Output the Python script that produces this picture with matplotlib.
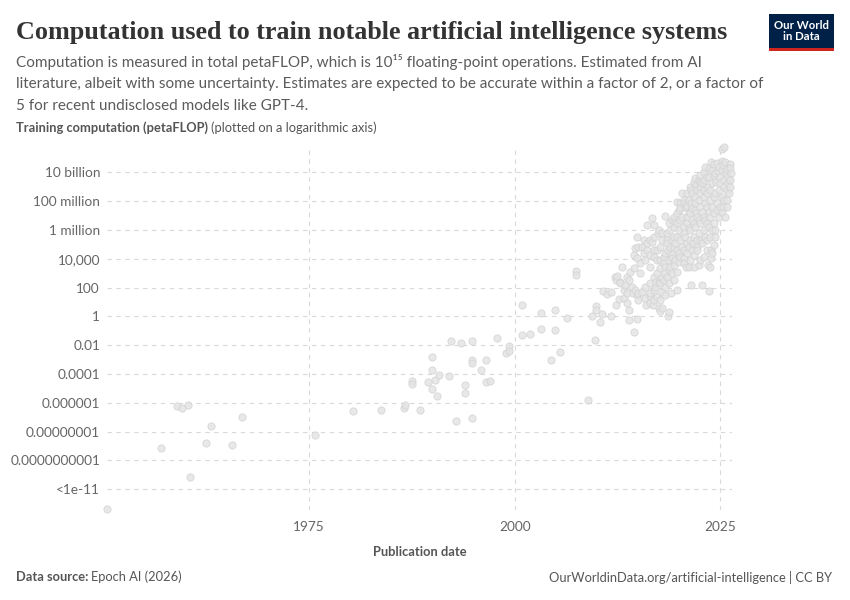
import matplotlib
matplotlib.use("Agg")
import matplotlib.pyplot as plt
from matplotlib.patches import Rectangle
import numpy as np

# publication year / log10(training compute in petaFLOP)
early_year = [1950.5, 1957.0, 1959.0, 1959.55, 1960.3, 1960.5, 1962.5, 1963.1, 1965.7, 1966.8,
              1975.7, 1980.3, 1983.7, 1986.6, 1986.7, 1987.5, 1987.5, 1988.5,
              1989.4, 1989.9, 1989.9, 1989.9, 1990.35, 1990.5, 1990.75, 1992.0, 1992.3, 1992.8,
              1993.5, 1993.9, 1994.0, 1994.8, 1994.8, 1994.8, 1994.8, 1995.85, 1996.45, 1996.45,
              1997.0, 1997.9, 1998.9, 1999.35, 1999.35, 2000.9, 2000.9, 2001.9, 2003.25, 2003.25,
              2004.4, 2004.9, 2004.9, 2005.5, 2006.35, 2007.45, 2007.45, 2008.95, 2009.4, 2009.7,
              2009.9, 2009.9, 2010.4, 2010.6]
early_log = [-13.36, -9.13, -6.2, -6.35, -6.14, -11.14, -8.78, -7.6, -8.92, -6.97,
             -8.22, -6.56, -6.49, -6.35, -6.14, -4.51, -4.68, -6.49,
             -4.54, -2.8, -3.73, -5.07, -4.42, -5.51, -4.08, -4.12, -1.69, -7.25,
             -1.83, -4.77, -5.3, -1.69, -3.03, -3.27, -7.04, -3.73, -3.03, -4.54,
             -4.47, -1.49, -2.53, -2.06, -2.39, 0.78, -1.28, -1.21, 0.25, -0.86,
             -3.01, 0.46, -0.93, -2.46, -0.1, 3.15, 2.89, -5.81, 0.04, -1.62,
             0.71, 0.44, -0.42, 0.16]

recent_year = [
    2010.73, 2011.21, 2011.70, 2011.70, 2012.22, 2012.34, 2012.34, 2012.43, 2012.71, 2012.75,
    2012.83, 2013.03, 2013.24, 2013.32, 2013.44, 2013.64, 2013.64, 2013.64, 2013.84, 2013.84,
    2013.92, 2014.04, 2014.25, 2014.37, 2014.45, 2014.45, 2014.53, 2014.65, 2014.65, 2014.85,
    2014.85, 2014.85, 2014.85, 2014.93, 2014.97, 2014.97, 2015.26, 2015.26, 2015.46, 2015.46,
    2015.66, 2015.66, 2015.87, 2015.87, 2015.87, 2015.99, 2016.07, 2016.07, 2016.07, 2016.39,
    2016.39, 2016.47, 2016.47, 2016.47, 2016.47, 2016.47, 2016.67, 2016.67, 2016.76, 2016.88,
    2016.88, 2016.88, 2016.88, 2016.88, 2016.88, 2016.88, 2017.08, 2017.20, 2017.28, 2017.28,
    2017.28, 2017.28, 2017.36, 2017.48, 2017.48, 2017.48, 2017.60, 2017.69, 2017.69, 2017.69,
    2017.69, 2017.69, 2017.89, 2017.89, 2017.89, 2017.89, 2017.89, 2018.09, 2018.09, 2018.09,
    2018.29, 2018.29, 2018.29, 2018.29, 2018.29, 2018.29, 2018.49, 2018.49, 2018.49, 2018.49,
    2018.57, 2018.62, 2018.70, 2018.70, 2018.70, 2018.70, 2018.70, 2018.90, 2018.90, 2018.90,
    2018.98, 2019.10, 2019.10, 2019.10, 2019.10, 2019.10, 2019.30, 2019.30, 2019.30, 2019.30,
    2019.30, 2019.30, 2019.51, 2019.51, 2019.51, 2019.71, 2019.71, 2019.71, 2019.71, 2019.71,
    2019.71, 2019.71, 2019.91, 2019.91, 2019.91, 2019.91, 2020.11, 2020.11, 2020.11, 2020.11,
    2020.11, 2020.31, 2020.31, 2020.31, 2020.52, 2020.52, 2020.52, 2020.52, 2020.52, 2020.52,
    2020.60, 2020.72, 2020.72, 2020.84, 2020.84, 2020.92, 2020.92, 2020.92, 2020.92, 2020.92,
    2020.92, 2021.12, 2021.12, 2021.12, 2021.12, 2021.17, 2021.33, 2021.33, 2021.33, 2021.33,
    2021.33, 2021.41, 2021.41, 2021.41, 2021.53, 2021.53, 2021.53, 2021.53, 2021.65, 2021.73,
    2021.73, 2021.73, 2021.73, 2021.73, 2021.93, 2021.93, 2021.93, 2021.93, 2021.93, 2021.97,
    2021.97, 2022.14, 2022.14, 2022.14, 2022.14, 2022.14, 2022.34, 2022.34, 2022.34, 2022.34,
    2022.34, 2022.46, 2022.46, 2022.54, 2022.54, 2022.54, 2022.54, 2022.54, 2022.62, 2022.74,
    2022.74, 2022.74, 2022.74, 2022.94, 2022.94, 2022.94, 2022.94, 2022.94, 2022.94, 2023.03,
    2023.07, 2023.15, 2023.15, 2023.15, 2023.35, 2023.35, 2023.35, 2023.35, 2023.35, 2023.35,
    2023.43, 2023.47, 2023.55, 2023.55, 2023.55, 2023.59, 2023.63, 2023.75, 2023.75, 2023.75,
    2023.75, 2023.75, 2023.83, 2023.83, 2023.83, 2023.96, 2023.96, 2023.96, 2023.96, 2023.96,
    2024.16, 2024.16, 2024.16, 2024.16, 2024.16, 2024.16, 2024.36, 2024.36, 2024.36, 2024.36,
    2024.48, 2024.56, 2024.56, 2024.56, 2024.68, 2024.76, 2024.76, 2024.76, 2024.97, 2024.97,
    2024.97, 2025.17, 2025.17, 2025.17, 2025.17, 2025.17, 2025.29, 2025.29, 2025.37, 2025.37,
    2025.37, 2025.45, 2025.57, 2025.57, 2025.69, 2025.78, 2025.78, 2025.78, 2025.78, 2025.86,
    2025.90, 2025.98, 2026.10, 2026.18, 2026.18, 2026.18, 2026.30]
recent_log = [
    1.78, 1.55, 1.71, 0.04, 2.75, 2.52, 0.78, 2.82, 1.18, 2.40,
    2.29, 3.44, 1.82, 1.24, 2.17, 2.75, 1.59, 0.94, 2.52, 0.43,
    -0.26, 3.10, 2.06, 1.64, 4.26, 3.33, -1.07, 4.72, 1.82, 5.53,
    4.02, 1.48, -0.19, 1.13, 4.83, 1.59, 3.68, 2.98, 1.71, 4.83,
    5.30, 4.37, 3.91, 2.06, 1.24, 0.78, 6.34, 5.06, 4.60, 5.30,
    1.41, 4.26, 3.44, 2.29, 1.59, 0.90, 6.85, 5.18, 0.78, 6.34,
    5.53, 4.60, 4.14, 2.75, 1.82, 1.13, 2.06, 2.40, 4.60, 3.91,
    2.98, 1.36, 5.76, 5.99, 2.40, 0.55, 1.13, 4.83, 3.91, 3.33,
    2.29, 0.39, 5.76, 5.30, 2.63, 1.71, 0.55, 4.14, 3.68, 2.52,
    6.96, 4.37, 3.44, 2.98, 2.06, 1.48, 5.76, 5.30, 5.06, 2.75,
    4.60, 0.04, 6.45, 3.91, 3.21, 2.29, 0.32, 5.99, 4.83, 3.44,
    1.64, 6.68, 5.30, 4.26, 4.02, 2.98, 6.92, 6.22, 5.53, 4.83,
    3.56, 2.52, 6.57, 5.06, 3.91, 7.96, 7.15, 6.45, 5.53, 4.60,
    3.10, 1.82, 7.38, 5.99, 4.37, 3.79, 7.84, 7.49, 6.68, 5.30,
    4.14, 8.54, 6.92, 4.83, 8.07, 7.84, 6.22, 5.76, 4.02, 3.68,
    4.60, 7.61, 5.53, 7.73, 3.44, 8.54, 7.61, 6.92, 6.45, 5.06,
    4.37, 8.07, 7.26, 6.11, 3.44, 4.83, 9.00, 7.15, 5.99, 5.30,
    3.91, 8.77, 7.84, 2.17, 8.54, 7.49, 6.68, 4.60, 5.06, 9.35,
    6.45, 5.53, 4.26, 3.44, 9.58, 8.31, 7.84, 7.38, 6.22, 9.12,
    7.15, 8.77, 6.92, 5.30, 4.83, 4.60, 9.46, 8.07, 6.68, 5.76,
    3.56, 9.35, 8.88, 9.81, 8.54, 7.61, 6.45, 3.91, 5.30, 9.23,
    7.26, 5.06, 2.17, 10.04, 8.77, 8.31, 6.92, 5.99, 4.14, 9.46,
    5.53, 10.34, 7.84, 6.68, 9.69, 8.54, 7.61, 6.45, 5.30, 4.60,
    9.00, 3.56, 10.27, 7.26, 6.22, 9.65, 1.75, 8.77, 8.07, 6.92,
    5.53, 3.44, 10.74, 4.60, 4.02, 10.16, 9.23, 7.61, 5.99, 4.37,
    10.57, 9.81, 8.31, 7.15, 6.45, 4.95, 9.93, 8.54, 5.99, 5.53,
    9.35, 10.62, 7.84, 7.38, 10.11, 10.39, 8.77, 6.92, 9.69, 9.23,
    7.61, 11.62, 10.81, 10.16, 8.31, 7.26, 10.50, 7.61, 9.46, 9.00,
    8.07, 11.73, 10.74, 6.92, 9.93, 10.20, 8.77, 8.07, 7.61, 9.23,
    9.69, 8.54, 9.46, 10.57, 10.27, 9.00, 9.93]

y_tick_vals = [1e10, 1e8, 1e6, 1e4, 1e2, 1, 1e-2, 1e-4, 1e-6, 1e-8, 1e-10, 1e-12]
y_tick_labels = ["10 billion", "100 million", "1 million", "10,000", "100", "1", "0.01",
                 "0.0001", "0.000001", "0.00000001", "0.0000000001", "<1e-11"]
x_ticks = [1975, 2000, 2025]

plt.rcParams['font.family'] = ['Lato', 'DejaVu Sans']

years = np.array(early_year + recent_year)
pflop = 10.0 ** np.array(early_log + recent_log)

fig = plt.figure(figsize=(8.5, 6), dpi=100)
ax = fig.add_axes([107 / 850, 1 - 510 / 600, 625 / 850, 363 / 600])

ax.scatter(years, pflop, s=27, facecolor='#e4e4e4', edgecolor='#d2d2d2', linewidth=0.6,
           alpha=0.85, zorder=3, clip_on=False)

ax.set_yscale('log')
ax.set_ylim(10 ** -13.45, 10 ** 11.76)
ax.set_xlim(1950.45, 2026.4)
ax.set_yticks(y_tick_vals)
ax.set_yticklabels(y_tick_labels)
ax.minorticks_off()
ax.set_xticks(x_ticks)
ax.set_xticklabels([str(t) for t in x_ticks])

ax.grid(True, color='#d9d9d9', linewidth=0.8, linestyle=(0, (4, 4)))
ax.set_axisbelow(True)
for sp in ax.spines.values():
    sp.set_visible(False)
ax.tick_params(length=0, labelsize=9.8, labelcolor='#666666')
ax.tick_params(axis='y', pad=5)
ax.tick_params(axis='x', pad=8)
ax.set_xlabel("Publication date", fontsize=9.3, fontweight='bold', color='#555555', labelpad=9)

# header
fig.text(16 / 850, 1 - 32 / 600, "Computation used to train notable artificial intelligence systems",
         family=['Liberation Serif', 'DejaVu Serif'], fontsize=18.8, fontweight='bold',
         color='#333333', va='center')
subtitle = ("Computation is measured in total petaFLOP, which is 10\u00b9\u2075 floating-point operations. Estimated from AI\n"
            "literature, albeit with some uncertainty. Estimates are expected to be accurate within a factor of 2, or a factor of\n"
            "5 for recent undisclosed models like GPT-4.")
fig.text(16 / 850, 1 - 54 / 600, subtitle, fontsize=10.95, color='#5b5b5b', va='top', linespacing=1.68)

yl = fig.text(16 / 850, 1 - 128 / 600, "Training computation (petaFLOP)", fontsize=9.3,
              fontweight='bold', color='#555555', va='center')
fig.canvas.draw()
bb = yl.get_window_extent()
fig.text(bb.x1 / 850 + 3 / 850, 1 - 128 / 600, "(plotted on a logarithmic axis)", fontsize=9.3,
         color='#555555', va='center')

# logo
fig.patches.append(Rectangle((769 / 850, 1 - 51 / 600), 65 / 850, 37 / 600,
                             transform=fig.transFigure, facecolor='#002147', edgecolor='none'))
fig.patches.append(Rectangle((769 / 850, 1 - 51 / 600), 65 / 850, 3 / 600,
                             transform=fig.transFigure, facecolor='#ce261e', edgecolor='none'))
fig.text(801.5 / 850, 1 - 31 / 600, "Our World\nin Data", fontsize=8.2, color='white',
         ha='center', va='center', linespacing=1.05, fontweight='bold')

# footer
src = fig.text(16 / 850, 1 - 577 / 600, "Data source:", fontsize=9.3, fontweight='bold',
               color='#555555', va='center')
fig.canvas.draw()
bb = src.get_window_extent()
fig.text(bb.x1 / 850 + 3 / 850, 1 - 577 / 600, "Epoch AI (2026)", fontsize=9.3,
         color='#555555', va='center')
fig.text(832 / 850, 1 - 577 / 600, "OurWorldinData.org/artificial-intelligence | CC BY",
         fontsize=9.3, color='#555555', va='center', ha='right')

fig.savefig("out.png", dpi=100)
